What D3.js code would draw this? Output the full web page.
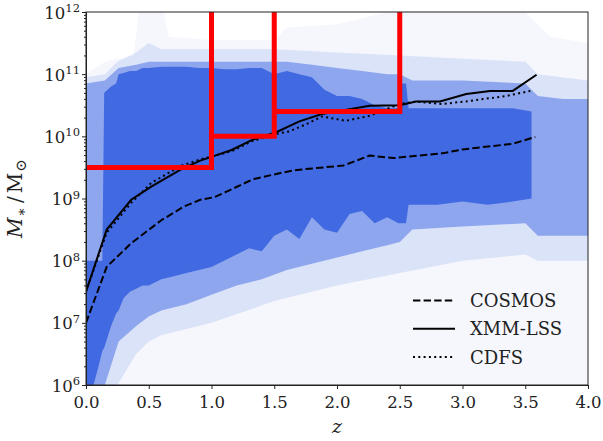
<!DOCTYPE html>
<html>
<head>
<meta charset="utf-8">
<script src="https://cdn.jsdelivr.net/npm/d3@7"></script>
<style>
  body { margin: 0; background: #fff; }
  svg text { font-family: 'DejaVu Serif', serif; fill: #222; }
</style>
</head>
<body>
<script>
// ---- data (log10 of stellar mass) ----

// median mass curves per field
const cosmosZ = [0, 0.165, 0.36, 0.6, 0.78, 0.91, 1.02, 1.12, 1.33, 1.55, 1.68, 2.05, 2.26, 2.45, 2.85, 3.0, 3.40, 3.58]
const cosmosM = [7.0, 7.90, 8.28, 8.65, 8.87, 8.98, 9.02, 9.11, 9.31, 9.41, 9.46, 9.53, 9.69, 9.65, 9.73, 9.79, 9.88, 9.99]

const xmmZ = [0, 0.165, 0.36, 0.52, 0.75, 0.91, 1.0, 1.16, 1.32, 1.52, 1.70, 1.88, 2.26, 2.50, 2.63, 2.82, 3.03, 3.22, 3.40, 3.59]
const xmmM = [7.50, 8.50, 8.98, 9.19, 9.46, 9.61, 9.67, 9.78, 9.94, 10.07, 10.24, 10.36, 10.49, 10.50, 10.56, 10.56, 10.68, 10.73, 10.73, 10.99]

const cdfsZ = [0, 0.165, 0.36, 0.52, 0.75, 0.91, 1.16, 1.32, 1.52, 1.62, 1.76, 1.88, 2.07, 2.26, 2.50, 2.63, 2.84, 3.06, 3.35, 3.54]
const cdfsM = [7.50, 8.45, 8.93, 9.25, 9.52, 9.63, 9.76, 9.92, 10.04, 10.08, 10.2, 10.32, 10.25, 10.33, 10.52, 10.56, 10.52, 10.57, 10.65, 10.73]

// mass cut per redshift bin (red steps)
const cutEdges = [0, 1.0, 1.5, 2.5]
const cutM = [9.5, 10.0, 10.4]

// envelope of the galaxy cloud: dense core
const coreZ  = [0, 0.06, 0.10, 0.13, 0.145, 0.2, 0.24, 0.26, 0.3, 0.35, 0.4, 0.45, 0.5, 0.6, 0.7, 0.8, 0.9, 1.0, 1.1, 1.2, 1.3, 1.4, 1.5, 1.6, 1.7, 1.8, 1.9, 2.0, 2.1, 2.2, 2.3, 2.4, 2.49, 2.51, 2.55, 2.57, 2.8, 3.0, 3.2, 3.4, 3.55]
const coreHi = [8.0, 8.0, 8.0, 8.0, 10.7, 10.8, 10.85, 11.0, 11.02, 11.05, 11.05, 11.1, 11.1, 11.12, 11.12, 11.12, 11.1, 11.1, 11.08, 11.08, 11.1, 11.1, 11.0, 11.05, 11.0, 10.95, 10.75, 10.65, 10.65, 10.6, 10.5, 10.45, 10.45, 10.85, 10.85, 10.45, 10.45, 10.45, 10.45, 10.45, 10.4]
const coreLo = [6.0, 6.0, 6.3, 6.55, 6.6, 6.95, 7.15, 7.2, 7.4, 7.5, 7.55, 7.6, 7.6, 7.7, 7.75, 7.8, 7.85, 7.9, 8.0, 8.1, 8.2, 8.15, 8.4, 8.5, 8.35, 8.7, 8.5, 8.45, 8.75, 8.8, 8.6, 8.7, 8.6, 8.6, 8.6, 8.9, 8.9, 8.95, 8.9, 8.95, 9.0]

// streaky, half filled zone hugging the core
const streakZ  = [0, 0.15, 0.26, 0.4, 0.5, 0.6, 0.8, 1.0, 1.2, 1.4, 1.6, 1.8, 2.0, 2.2, 2.4, 2.5, 2.6, 3.0, 3.5, 3.6, 3.8, 4.0]
const streakHi = [10.85, 10.9, 11.1, 11.15, 11.2, 11.2, 11.2, 11.2, 11.2, 11.2, 11.2, 11.15, 11.1, 11.05, 11.0, 11.0, 10.9, 10.9, 10.85, 10.65, 10.6, 10.6]
const streakLo = [6.0, 6.0, 6.7, 6.95, 7.1, 7.2, 7.3, 7.45, 7.6, 7.7, 7.85, 7.95, 8.05, 8.15, 8.25, 8.3, 8.5, 8.55, 8.6, 8.4, 8.4, 8.4]

// pale speckled zone
const paleZ  = [0, 0.15, 0.25, 0.4, 0.5, 0.6, 0.8, 1.0, 1.5, 2.0, 2.5, 3.0, 3.5, 3.6, 4.0]
const paleHi = [10.95, 11.0, 11.2, 11.35, 11.5, 11.4, 11.4, 11.4, 11.4, 11.35, 11.3, 11.25, 11.2, 11.0, 10.9]
const paleLo = [6.0, 6.0, 6.0, 6.5, 6.7, 6.8, 6.9, 7.0, 7.35, 7.6, 7.8, 8.0, 8.1, 8.0, 8.0]

// faint outliers
const haloZ  = [0, 0.15, 0.38, 0.42, 0.62, 0.66, 1.0, 1.5, 1.6, 2.0, 2.4, 3.5, 3.7, 4.0]
const haloHi = [11.0, 11.2, 11.3, 12, 12, 11.6, 11.55, 11.55, 11.75, 11.8, 12, 12, 11.6, 11.5]
const haloLo = [6, 6, 6, 6, 6, 6, 6, 6, 6, 6, 6, 6, 6, 6]

const xTicks = [0, 0.5, 1.0, 1.5, 2.0, 2.5, 3.0, 3.5, 4.0]
const yTickExp = [6, 7, 8, 9, 10, 11, 12]
const legendNames = ['COSMOS', 'XMM-LSS', 'CDFS']

// ---- layout ----
const width = 603
const height = 441
const margin = { left: 86, top: 12, right: 15, bottom: 56 }
const blue = '#4169e1'

const svg = d3.select('body').append('svg')
  .attr('width', width)
  .attr('height', height)

const x = d3.scaleLinear().domain([0, 4]).range([margin.left, width - margin.right])
const y = d3.scaleLog().domain([1e6, 1e12]).range([height - margin.bottom, margin.top])
const ym = (m) => y(Math.pow(10, m))

svg.append('clipPath').attr('id', 'plot')
  .append('rect')
  .attr('x', x(0)).attr('y', y(1e12))
  .attr('width', x(4) - x(0)).attr('height', y(1e6) - y(1e12))

const plot = svg.append('g').attr('clip-path', 'url(#plot)')

// cloud layers, faint to dense
const zip = (zs, lo, hi) => zs.map((z, i) => ({ z: z, lo: lo[i], hi: hi[i] }))
const area = d3.area()
  .x((d) => x(d.z))
  .y0((d) => ym(d.lo))
  .y1((d) => ym(d.hi))

const layers = [
  [zip(haloZ, haloLo, haloHi), 0.05],
  [zip(paleZ, paleLo, paleHi), 0.14],
  [zip(streakZ, streakLo, streakHi), 0.5],
  [zip(coreZ, coreLo, coreHi), 1]
]
layers.forEach((l) => {
  plot.append('path').attr('d', area(l[0]))
    .style('fill', blue).style('opacity', l[1])
})

// median lines
const line = d3.line()
  .x((d) => x(d.z))
  .y((d) => ym(d.m))
const pts = (zs, ms) => zs.map((z, i) => ({ z: z, m: ms[i] }))

const styles = [
  { dash: '7.4,3.2' },
  { dash: null },
  { dash: '2,3.3' }
]
const series = [pts(cosmosZ, cosmosM), pts(xmmZ, xmmM), pts(cdfsZ, cdfsM)]

series.forEach((s, i) => {
  plot.append('path')
    .attr('d', line(s))
    .style('fill', 'none')
    .style('stroke', '#000')
    .style('stroke-width', 2)
    .style('stroke-dasharray', styles[i].dash)
})

// red mass-cut steps
cutM.forEach((m, i) => {
  const z0 = cutEdges[i]
  const z1 = cutEdges[i + 1]
  plot.append('path')
    .attr('d', 'M' + x(z0) + ',' + ym(m) + 'L' + x(z1) + ',' + ym(m) + 'L' + x(z1) + ',' + (y(1e12) - 5))
    .style('fill', 'none')
    .style('stroke', '#ff0000')
    .style('stroke-width', 5)
    .style('stroke-linejoin', 'miter')
})

// ---- axes ----
const xaxis = d3.axisBottom(x)
  .tickValues(xTicks)
  .tickFormat(d3.format('.1f'))
  .tickSize(4)
  .tickPadding(7)
svg.append('g')
  .attr('transform', 'translate(0,' + y(1e6) + ')')
  .call(xaxis)

const yaxis = d3.axisLeft(y)
  .tickValues(yTickExp.map((e) => Math.pow(10, e)))
  .tickFormat('')
  .tickSize(4)
svg.append('g')
  .attr('transform', 'translate(' + x(0) + ',0)')
  .call(yaxis)

const minor = []
yTickExp.slice(0, -1).forEach((e) => {
  for (let k = 2; k < 10; k++) minor.push(k * Math.pow(10, e))
})
svg.append('g')
  .attr('transform', 'translate(' + x(0) + ',0)')
  .call(d3.axisLeft(y).tickValues(minor).tickFormat('').tickSize(2))
  .select('.domain').remove()

// 10^n labels
const ylab = svg.append('g')
yTickExp.forEach((e) => {
  const t = ylab.append('text')
    .attr('x', x(0) - 6)
    .attr('y', y(Math.pow(10, e)) + 6.5)
    .style('text-anchor', 'end')
    .style('font-size', '16.5px')
  t.append('tspan').text('10')
  t.append('tspan').text(String(e))
    .attr('dy', '-6.5')
    .style('font-size', '11.5px')
})

svg.selectAll('.tick text')
  .style('font-family', 'DejaVu Serif')
  .style('font-size', '16.5px')
  .style('fill', '#222')
svg.selectAll('.tick line, .domain')
  .style('stroke', '#222')
  .style('stroke-width', 1)

// frame
svg.append('rect')
  .attr('x', x(0)).attr('y', y(1e12))
  .attr('width', x(4) - x(0)).attr('height', y(1e6) - y(1e12))
  .style('fill', 'none')
  .style('stroke', '#222')
  .style('stroke-width', 1)

// axis titles
svg.append('text')
  .attr('x', (x(0) + x(4)) / 2)
  .attr('y', 433)
  .style('text-anchor', 'middle')
  .style('font-style', 'italic')
  .style('font-size', '19px')
  .text('z')

const yt = svg.append('text')
  .attr('transform', 'translate(21.5,' + ((y(1e6) + y(1e12)) / 2) + ') rotate(-90)')
  .style('text-anchor', 'middle')
  .style('font-size', '20px')
yt.append('tspan').text('M').style('font-style', 'italic')
yt.append('tspan').text('∗').attr('dy', 4).attr('dx', 1).style('font-size', '14px')
yt.append('tspan').text('/').attr('dy', -4).attr('dx', 4)
yt.append('tspan').text('M').attr('dx', 3)
yt.append('tspan').text('⊙').attr('dy', 4).attr('dx', 1).style('font-size', '15px')

// legend
const leg = svg.append('g')
legendNames.forEach((name, i) => {
  const ly = 300.5 + i * 28.3
  leg.append('line')
    .attr('x1', 413).attr('x2', 455)
    .attr('y1', ly).attr('y2', ly)
    .style('stroke', '#000')
    .style('stroke-width', 2)
    .style('stroke-dasharray', styles[i].dash)
  leg.append('text')
    .attr('x', 470)
    .attr('y', ly + 6.5)
    .style('font-size', '18px')
    .text(name)
})
</script>
</body>
</html>
